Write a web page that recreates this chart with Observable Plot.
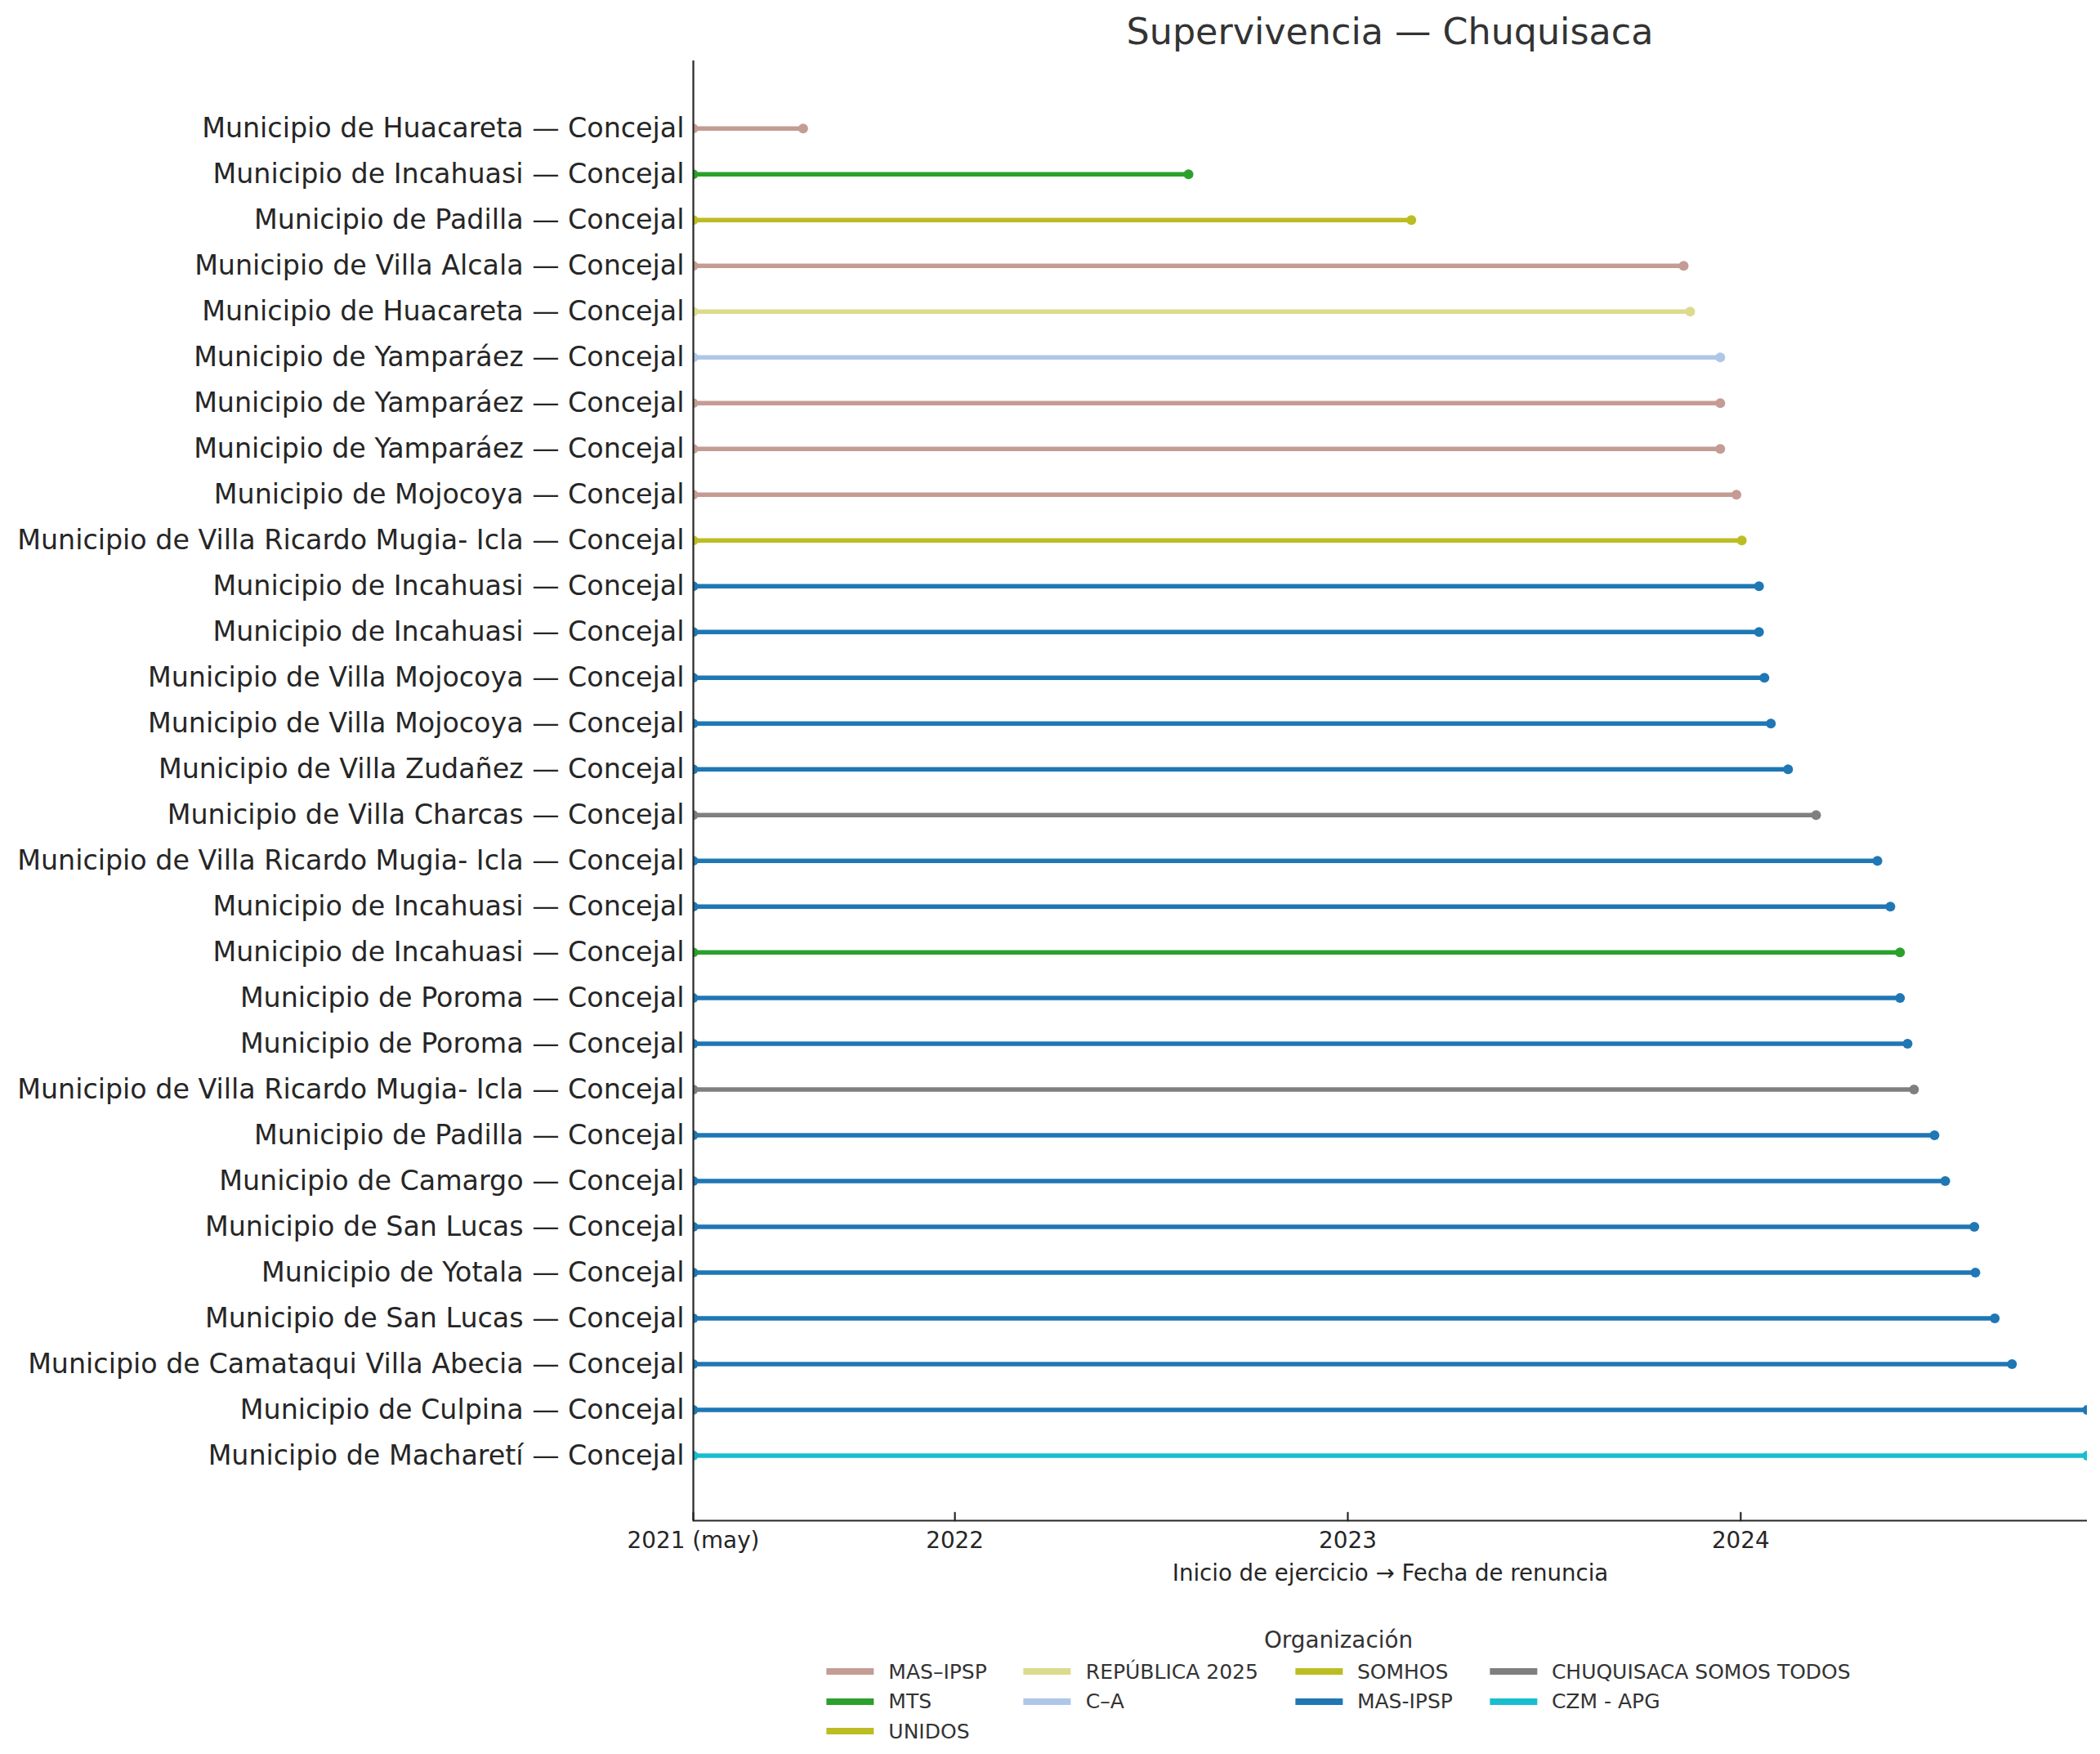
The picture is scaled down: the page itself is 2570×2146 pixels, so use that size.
<!DOCTYPE html>
<html>
<head>
<meta charset="utf-8">
<script src="https://cdn.jsdelivr.net/npm/d3@7"></script>
<script src="https://cdn.jsdelivr.net/npm/@observablehq/plot@0.6"></script>
<style>
  html, body { margin: 0; padding: 0; background: #fff; }
  body { width: 2570px; height: 2146px; position: relative; font-family: "DejaVu Sans", sans-serif; overflow: hidden; }
  #title { position: absolute; left: 848px; width: 1706px; top: 0; height: 64px; box-sizing: border-box; padding-top: 13px;
           text-align: center; font-size: 44.4px; line-height: 1.164; color: #333; white-space: nowrap; }
  #chart { position: absolute; left: 0; top: 64px; }
  #legend { position: absolute; top: 1987px; left: 1638px; transform: translateX(-50%); color: #333; }
  #legend .ltitle { font-size: 27.8px; height: 40px; line-height: 40px; text-align: center; }
  #legend .cols { display: flex; align-items: flex-start; column-gap: 45px; }
  #legend .col { display: flex; flex-direction: column; }
  #legend .item { display: flex; align-items: center; height: 36.5px; font-size: 25px; white-space: nowrap; }
  #legend .sw { width: 58px; height: 8.3px; margin-right: 18px; flex: none; }
</style>
</head>
<body>
<div id="title"></div>
<div id="chart"></div>
<div id="legend"></div>
<script>
// ---- data ----
const titleText = "Supervivencia — Chuquisaca";
const xAxisLabel = "Inicio de ejercicio → Fecha de renuncia";
const legendTitle = "Organización";

const labels = [
  "Municipio de Huacareta — Concejal",
  "Municipio de Incahuasi — Concejal",
  "Municipio de Padilla — Concejal",
  "Municipio de Villa Alcala — Concejal",
  "Municipio de Huacareta — Concejal",
  "Municipio de Yamparáez — Concejal",
  "Municipio de Yamparáez — Concejal",
  "Municipio de Yamparáez — Concejal",
  "Municipio de Mojocoya — Concejal",
  "Municipio de Villa Ricardo Mugia- Icla — Concejal",
  "Municipio de Incahuasi — Concejal",
  "Municipio de Incahuasi — Concejal",
  "Municipio de Villa Mojocoya — Concejal",
  "Municipio de Villa Mojocoya — Concejal",
  "Municipio de Villa Zudañez — Concejal",
  "Municipio de Villa Charcas — Concejal",
  "Municipio de Villa Ricardo Mugia- Icla — Concejal",
  "Municipio de Incahuasi — Concejal",
  "Municipio de Incahuasi — Concejal",
  "Municipio de Poroma — Concejal",
  "Municipio de Poroma — Concejal",
  "Municipio de Villa Ricardo Mugia- Icla — Concejal",
  "Municipio de Padilla — Concejal",
  "Municipio de Camargo — Concejal",
  "Municipio de San Lucas — Concejal",
  "Municipio de Yotala — Concejal",
  "Municipio de San Lucas — Concejal",
  "Municipio de Camataqui Villa Abecia — Concejal",
  "Municipio de Culpina — Concejal",
  "Municipio de Macharetí — Concejal"
];

const orgs = [
  "MAS–IPSP", "MTS", "UNIDOS", "MAS–IPSP", "REPÚBLICA 2025",
  "C–A", "MAS–IPSP", "MAS–IPSP", "MAS–IPSP", "SOMHOS",
  "MAS-IPSP", "MAS-IPSP", "MAS-IPSP", "MAS-IPSP", "MAS-IPSP",
  "CHUQUISACA SOMOS TODOS", "MAS-IPSP", "MAS-IPSP", "MTS", "MAS-IPSP",
  "MAS-IPSP", "CHUQUISACA SOMOS TODOS", "MAS-IPSP", "MAS-IPSP", "MAS-IPSP",
  "MAS-IPSP", "MAS-IPSP", "MAS-IPSP", "MAS-IPSP", "CZM - APG"
];

const startDate = "2021-05-03";
const endDates = [
  "2021-08-13", "2022-08-06", "2023-03-01", "2023-11-09", "2023-11-15",
  "2023-12-13", "2023-12-13", "2023-12-13", "2023-12-28", "2024-01-02",
  "2024-01-18", "2024-01-18", "2024-01-23", "2024-01-29", "2024-02-14",
  "2024-03-11", "2024-05-07", "2024-05-19", "2024-05-28", "2024-05-28",
  "2024-06-04", "2024-06-10", "2024-06-29", "2024-07-09", "2024-08-05",
  "2024-08-06", "2024-08-24", "2024-09-09", "2024-11-18", "2024-11-18"
];
const xDomainEnd = "2024-11-18";

const xTickDates = ["2021-05-03", "2022-01-01", "2023-01-01", "2024-01-01"];
const xTickLabels = ["2021 (may)", "2022", "2023", "2024"];

const legendOrgs = ["MAS–IPSP", "MTS", "UNIDOS", "REPÚBLICA 2025", "C–A", "SOMHOS", "MAS-IPSP", "CHUQUISACA SOMOS TODOS", "CZM - APG"];
const legendColors = ["#c49c94", "#2ca02c", "#bcbd22", "#dbdb8d", "#aec7e8", "#bcbd22", "#1f77b4", "#7f7f7f", "#17becf"];
const legendColumnSizes = [3, 2, 2, 2];

// ---- build ----
const rows = labels.map((label, i) => ({
  i, label, org: orgs[i], start: new Date(startDate), end: new Date(endDates[i])
}));
const xTicks = xTickDates.map(d => new Date(d));
const yIdx = d3.range(labels.length);
const ink = "#262626";
const tickShape = { draw(ctx, l) { ctx.moveTo(0, 0); ctx.lineTo(0, -l); } };

document.getElementById("title").textContent = titleText;

const chart = Plot.plot({
  width: 2570,
  height: 1886,
  marginLeft: 848,
  marginRight: 16,
  marginTop: 10,
  marginBottom: 90,
  style: { fontFamily: "DejaVu Sans", background: "white", color: ink, overflow: "visible" },
  x: { type: "utc", domain: [new Date(startDate), new Date(xDomainEnd)] },
  y: { domain: [30.42, -1.48] },
  color: { domain: legendOrgs, range: legendColors },
  marks: [
    Plot.ruleY(rows, { y: "i", x1: "start", x2: "end", stroke: "org", strokeWidth: 5.5, clip: true }),
    Plot.dot(rows, { x: "start", y: "i", r: 6, fill: "org", clip: true }),
    Plot.dot(rows, { x: "end", y: "i", r: 6, fill: "org", clip: true }),
    Plot.ruleX([new Date(startDate)], { stroke: ink, strokeWidth: 2.2 }),
    Plot.ruleY([30.42], { stroke: ink, strokeWidth: 2.2 }),
    Plot.vector(xTicks, { x: d => d, frameAnchor: "bottom", length: 9.7, rotate: 0, anchor: "start", shape: tickShape, stroke: ink, strokeWidth: 2.2 }),
    Plot.axisX(xTicks, {
      tickSize: 0, tickPadding: 14, fontSize: 27.8, label: null,
      tickFormat: d => xTickLabels[xTicks.findIndex(t => +t === +d)]
    }),
    Plot.axisY(yIdx, { tickSize: 0, tickPadding: 11, fontSize: 33.3, label: null, tickFormat: i => labels[i] }),
    Plot.text([xAxisLabel], { text: d => d, frameAnchor: "bottom", dy: 73, fontSize: 27.6, fill: ink })
  ]
});
document.getElementById("chart").appendChild(chart);

// legend (columns of 3, 2, 2, 2 items)
const legend = document.getElementById("legend");
const lt = document.createElement("div");
lt.className = "ltitle";
lt.textContent = legendTitle;
legend.appendChild(lt);
const cols = document.createElement("div");
cols.className = "cols";
let k = 0;
legendColumnSizes.forEach(n => {
  const col = document.createElement("div");
  col.className = "col";
  for (let j = 0; j < n; j++, k++) {
    const item = document.createElement("div");
    item.className = "item";
    const sw = document.createElement("span");
    sw.className = "sw";
    sw.style.background = legendColors[k];
    const tx = document.createElement("span");
    tx.textContent = legendOrgs[k];
    item.appendChild(sw);
    item.appendChild(tx);
    col.appendChild(item);
  }
  cols.appendChild(col);
});
legend.appendChild(cols);
</script>
</body>
</html>
